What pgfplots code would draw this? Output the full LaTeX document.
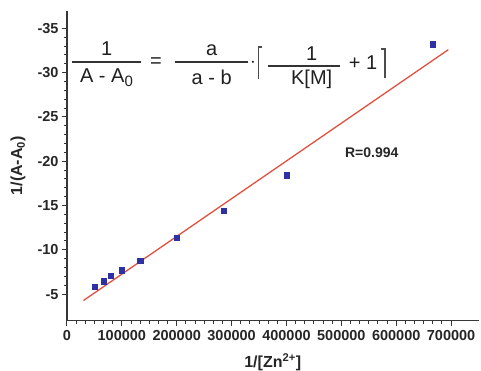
\documentclass[border=0pt]{standalone}
\usepackage{fontspec}
\setmainfont{Liberation Sans}
\usepackage{pgfplots}
\pgfplotsset{compat=1.18}
\definecolor{fitred}{RGB}{226,80,64}
\definecolor{ptblue}{RGB}{48,48,165}
\definecolor{axgray}{RGB}{55,55,55}
\begin{document}
\begin{tikzpicture}
\path[use as bounding box] (-67pt,-50.3pt) rectangle (414pt,320.7pt);
\begin{axis}[
  at={(0pt,0pt)}, anchor=south west,
  scale only axis, width=411.5pt, height=310pt,
  xmin=0, xmax=750000, ymin=-37, ymax=-2,
  y dir=reverse,
  axis x line=bottom, axis y line=left,
  axis line style={-, line width=1.2pt, color=axgray},
  xtick={0,100000,200000,300000,400000,500000,600000,700000},
  xticklabels={0,100000,200000,300000,400000,500000,600000,700000},
  scaled x ticks=false,
  ytick={-35,-30,-25,-20,-15,-10,-5},
  yticklabels={-35,-30,-25,-20,-15,-10,-5},
  minor x tick num=5, minor y tick num=4,
  tick align=outside,
  major tick length=5pt, minor tick length=3pt,
  tick style={axgray, line width=1pt},
  tick label style={font=\fontsize{14.5}{16}\selectfont\bfseries, text=black!85},
  xticklabel style={yshift=-1.5pt},
  xlabel={1/[Zn\textsuperscript{2+}]},
  ylabel={1/(A-A\textsubscript{0})},
  label style={font=\fontsize{16}{18}\selectfont\bfseries, text=black!85},
  xlabel style={at={(axis description cs:0.5,-0.133)}, anchor=center},
  ylabel style={at={(axis description cs:-0.119,0.5)}, anchor=center},
  clip=false,
]
\addplot[fitred, line width=1.3pt, no marks] coordinates {(30000,-4.28) (695000,-32.6)};
\addplot[only marks, mark=square*, mark size=2.7pt, ptblue] coordinates {
 (50000,-5.82) (66667,-6.47) (80000,-7.06) (100000,-7.71) (133333,-8.79)
 (200000,-11.38) (285714,-14.39) (400000,-18.45) (666667,-33.2)};
\end{axis}
% equation annotation
\begin{scope}[every node/.style={font=\fontsize{20}{23}\selectfont, text=black!88, inner sep=0pt}]
\draw[line width=1.9pt, black!80] (4.7pt,258.4pt) -- (74pt,258.4pt);
\node at (39.7pt,271.7pt) {1};
\node at (39.5pt,242.7pt) {A - A\raisebox{-0.35ex}{\fontsize{15}{15}\selectfont 0}};
\node at (89pt,257.7pt) {=};
\draw[line width=1.9pt, black!80] (108pt,258.4pt) -- (181pt,258.4pt);
\node at (144.7pt,270.7pt) {a};
\node at (144.7pt,243.5pt) {a - b};
\node at (186pt,258.2pt) {$\cdot$};
\draw[line width=1.1pt, black!70] (195pt,273.7pt) -- (191.3pt,273.7pt) -- (191.3pt,241.7pt);
\draw[line width=1.9pt, black!80] (201pt,254.7pt) -- (273pt,254.7pt);
\node at (244.7pt,267.4pt) {1};
\node at (244.7pt,241.7pt) {K[M]};
\node at (296pt,257.7pt) {+ 1};
\draw[line width=1.1pt, black!70] (314.3pt,271.7pt) -- (318pt,271.7pt) -- (318pt,242.7pt);
\end{scope}
\node[font=\fontsize{14}{16}\selectfont\bfseries, text=black!85] at (304.7pt,168.4pt) {R=0.994};
\end{tikzpicture}
\end{document}
